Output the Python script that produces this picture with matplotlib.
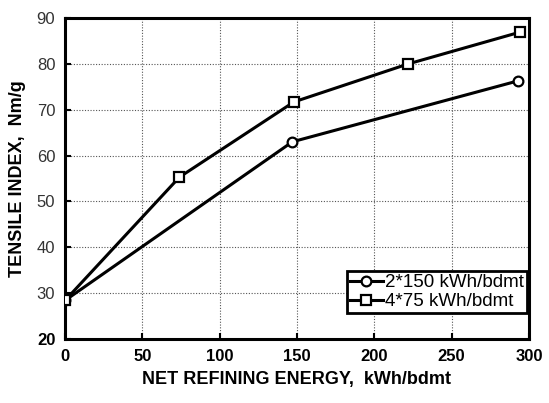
import matplotlib
matplotlib.use("Agg")
import matplotlib.pyplot as plt

plt.rcParams['font.family'] = ['Liberation Sans', 'DejaVu Sans']

energy_2x150 = [0, 147, 293]
tensile_2x150 = [28.4, 63.0, 76.3]
energy_4x75 = [0, 74, 148, 222, 294]
tensile_4x75 = [28.4, 55.3, 71.7, 80.0, 86.9]
labels = ["2*150 kWh/bdmt", "4*75 kWh/bdmt"]
xticks = [0, 50, 100, 150, 200, 250, 300]
yticks = [20, 30, 40, 50, 60, 70, 80, 90]

fig = plt.figure(figsize=(5.49, 4.03), dpi=100)
ax = fig.add_axes([65/549, 1-339/403, (529-65)/549, (339-18)/403])

ax.plot(energy_2x150, tensile_2x150, color='black', lw=2.2, marker='o',
        markersize=7, markerfacecolor='white', markeredgecolor='black',
        markeredgewidth=1.6, label=labels[0], zorder=3)
ax.plot(energy_4x75, tensile_4x75, color='black', lw=2.2, marker='s',
        markersize=7, markerfacecolor='white', markeredgecolor='black',
        markeredgewidth=1.6, label=labels[1], zorder=4)

ax.set_xlim(0, 300)
ax.set_ylim(20, 90)
ax.set_xticks(xticks)
ax.set_yticks(yticks)
ax.set_xticklabels([str(t) for t in xticks], fontsize=12, fontweight='bold')
ylabs = ax.set_yticklabels([str(t) for t in yticks], fontsize=12)
for t, lab in zip(yticks, ylabs):
    lab.set_fontweight('bold' if t == 20 else 'normal')
    lab.set_color('black' if t == 20 else '#333333')

ax.tick_params(axis='both', direction='in', length=4, width=1.5, pad=7)
ax.grid(True, linestyle=(0, (1, 1.5)), color='#555555', lw=0.8)
for s in ax.spines.values():
    s.set_linewidth(2.2)

ax.set_xlabel("NET REFINING ENERGY,  kWh/bdmt", fontsize=13, fontweight='bold', labelpad=5)
ax.set_ylabel("TENSILE INDEX,  Nm/g", fontsize=13, fontweight='bold', labelpad=8)

leg = ax.legend(loc='lower right', bbox_to_anchor=((527-65)/464, (339-313)/321),
                fontsize=13.5, frameon=True, fancybox=False,
                edgecolor='black', framealpha=1, handlelength=1.75,
                handletextpad=0.15, borderpad=0.15, labelspacing=0.1,
                borderaxespad=0.0)
leg.get_frame().set_linewidth(2)

fig.savefig("out.png", dpi=100)
